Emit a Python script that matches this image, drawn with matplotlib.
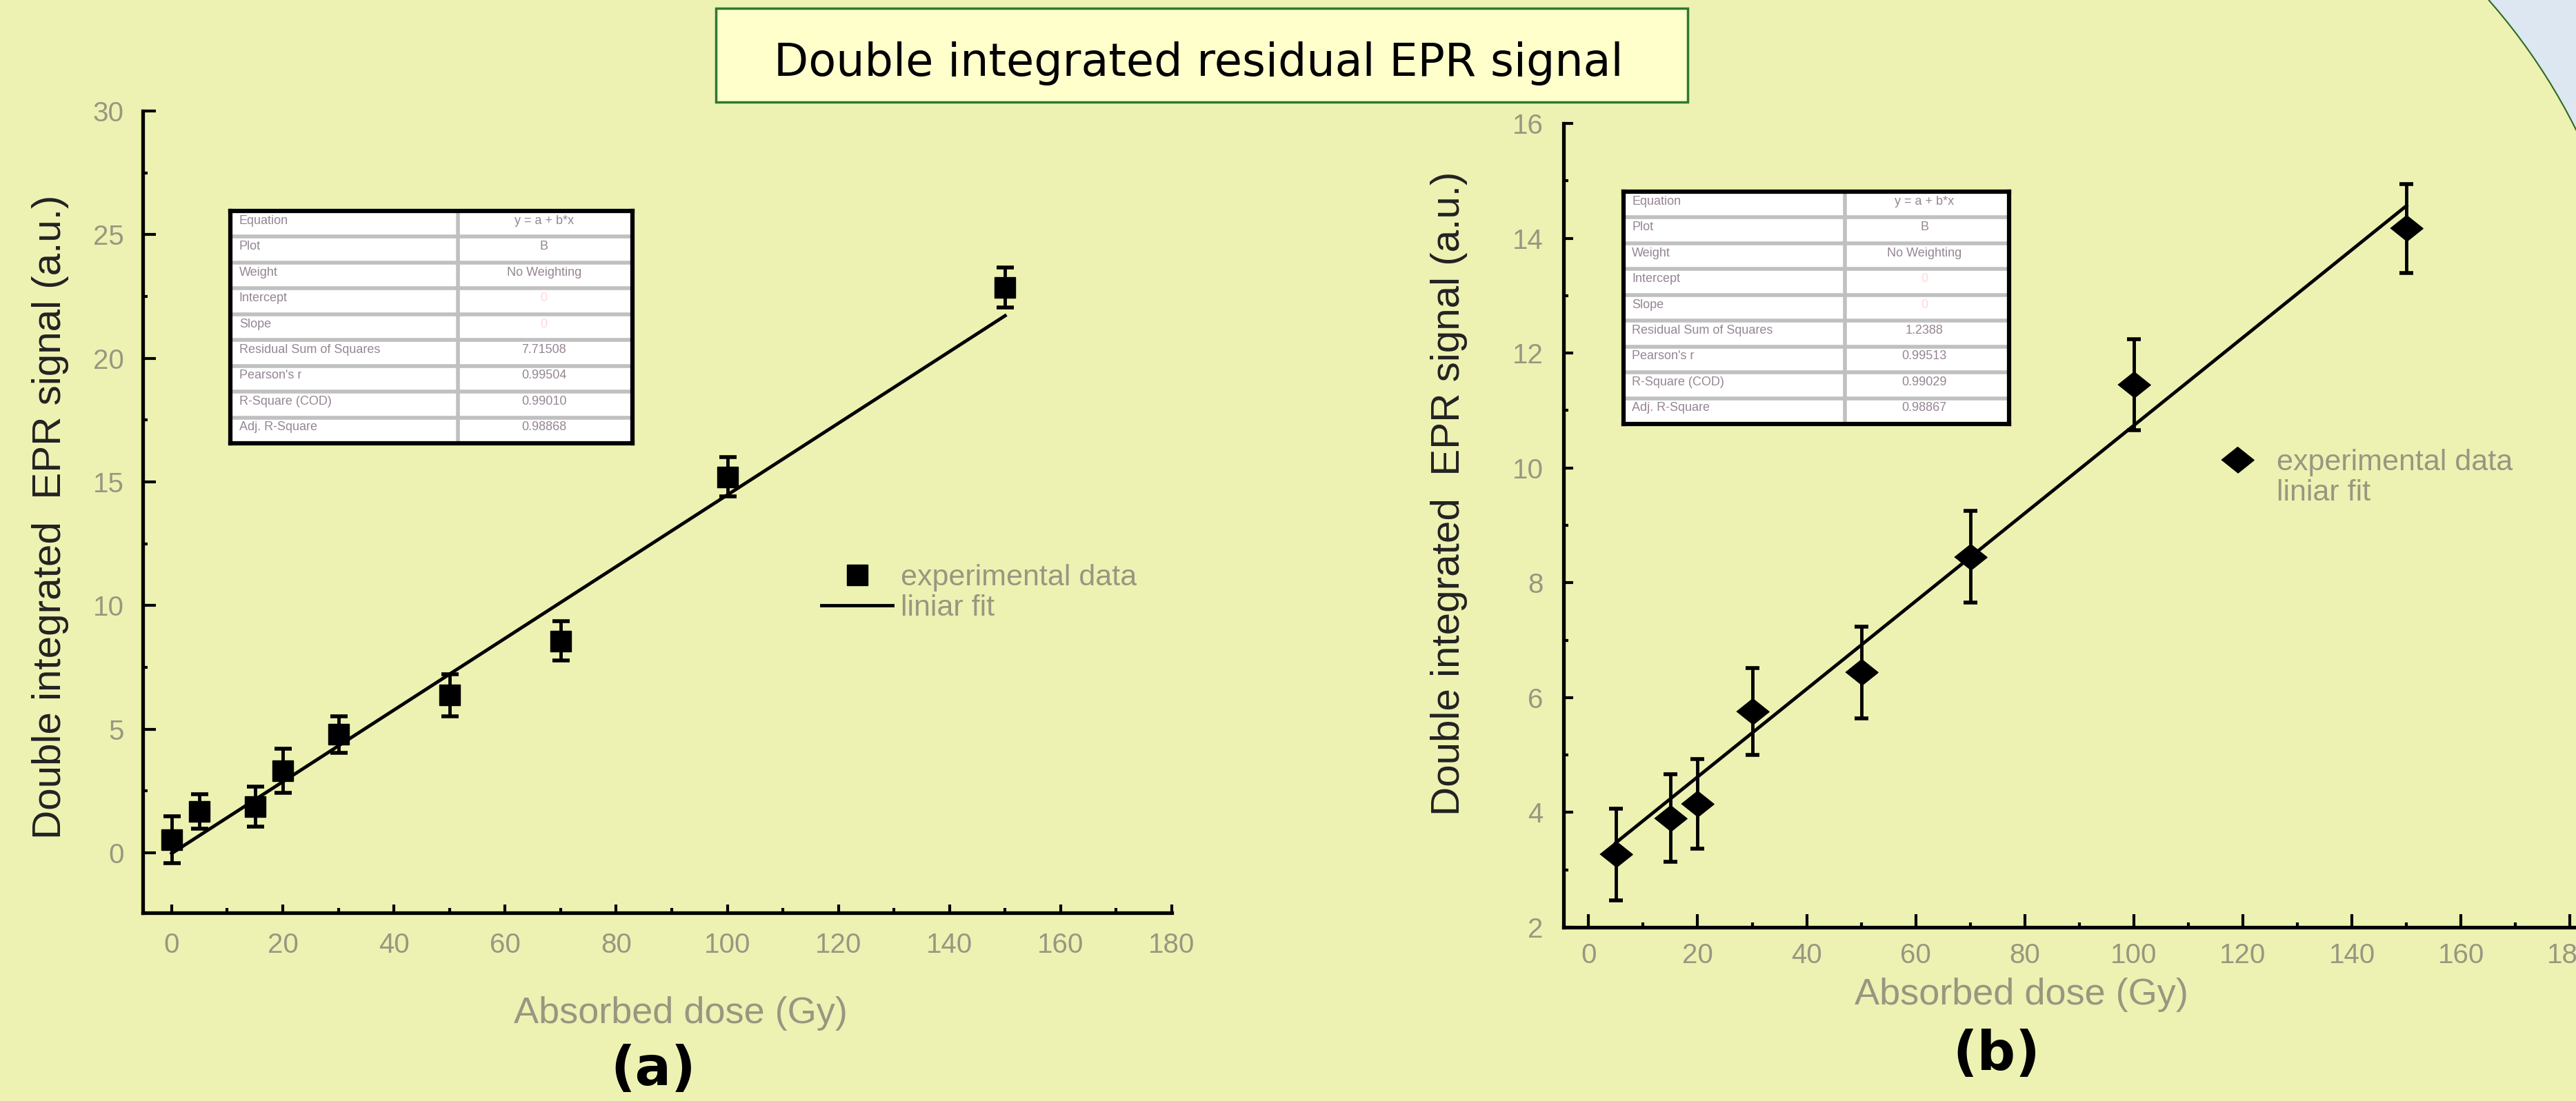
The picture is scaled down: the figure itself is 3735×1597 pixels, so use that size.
import numpy as np
import matplotlib
matplotlib.use("Agg")
import matplotlib.pyplot as plt
from matplotlib.lines import Line2D
from matplotlib.patches import Rectangle, Circle

# panel (a): square markers
dose_a = [0, 5, 15, 20, 30, 50, 70, 100, 150]
signal_a = [0.53, 1.66, 1.86, 3.32, 4.78, 6.38, 8.57, 15.2, 22.86]
err_a = [0.95, 0.7, 0.8, 0.9, 0.75, 0.85, 0.8, 0.8, 0.8]
fit_a = (-0.03, 0.145)      # intercept, slope of the drawn fit line
fit_range_a = [0, 150]

# panel (b): diamond markers
dose_b = [5, 15, 20, 30, 50, 70, 100, 150]
signal_b = [3.27, 3.90, 4.15, 5.76, 6.44, 8.45, 11.45, 14.17]
err_b = [0.8, 0.76, 0.78, 0.76, 0.8, 0.8, 0.79, 0.77]
fit_b = (3.09, 0.0765)
fit_range_b = [5, 150]

# fit report tables
table_names = ["Equation", "Plot", "Weight", "Intercept", "Slope",
               "Residual Sum of Squares", "Pearson's r", "R-Square (COD)",
               "Adj. R-Square"]
table_vals_a = ["y = a + b*x", "B", "No Weighting", "", "",
                "7.71508", "0.99504", "0.99010", "0.98868"]
table_vals_b = ["y = a + b*x", "B", "No Weighting", "", "",
                "1.2388", "0.99513", "0.99029", "0.98867"]

legend_labels = ["experimental data", "liniar fit"]
title = "Double integrated residual EPR signal"
xlabel = "Absorbed dose (Gy)"
ylabel = "Double integrated  EPR signal (a.u.)"

bg = '#edf2b3'
grey = '#9a9680'

plt.rcParams['font.family'] = ['Liberation Sans', 'DejaVu Sans']

W, H = 3735, 1597
fig = plt.figure(figsize=(W / 100, H / 100), dpi=100, facecolor=bg)


def frac(x0, y0, x1, y1):
    # pixel box (top-left origin) -> figure fraction rect
    return [x0 / W, 1 - y1 / H, (x1 - x0) / W, (y1 - y0) / H]


# blue slide corner top right
corner = Rectangle((35.0, 12.0), 2.4, 4.0, transform=fig.dpi_scale_trans,
                   facecolor='#dce7f2', edgecolor='none', zorder=-3)
fig.add_artist(corner)
edge = Circle((29.47, 10.15), 8.81, transform=fig.dpi_scale_trans,
              facecolor=bg, edgecolor='#2d6a1f', lw=1.5, zorder=-2)
edge.set_clip_path(corner)
fig.add_artist(edge)

# title box
fig.add_artist(Rectangle((10.38, 14.49), 14.09, 1.36, transform=fig.dpi_scale_trans,
                         facecolor='#ffffcc', edgecolor='#2b7a2b', lw=2.5, zorder=-1))
fig.text(1738 / W, 1 - 92 / H, title, ha='center', va='center', fontsize=47,
         family='DejaVu Sans', color='black')


def panel(rect, dose, sig, err, fit, fit_range, marker, ms, capsize,
          xlim, ylim, yticks, yminor, ylen, xlen, xpad, ypad):
    ax = fig.add_axes(rect)
    ax.set_facecolor('none')
    for s in ['top', 'right']:
        ax.spines[s].set_visible(False)
    for s in ['left', 'bottom']:
        ax.spines[s].set_linewidth(3.8)
    xs = np.array(fit_range, dtype=float)
    ax.plot(xs, fit[0] + fit[1] * xs, color='k', lw=3.5, zorder=2)
    ax.errorbar(dose, sig, yerr=err, fmt='', ls='none', marker=marker, ms=ms,
                color='k', ecolor='k', elinewidth=3.5, capsize=capsize,
                capthick=4, zorder=3)
    ax.set_xlim(*xlim)
    ax.set_ylim(*ylim)
    ax.set_xticks(np.arange(0, 181, 20))
    ax.set_xticks(np.arange(10, 180, 20), minor=True)
    ax.set_yticks(yticks)
    ax.set_yticks(yminor, minor=True)
    ax.tick_params(axis='x', which='major', direction='in', length=xlen, width=3,
                   pad=xpad, labelsize=29, labelcolor=grey)
    ax.tick_params(axis='y', which='major', direction='in', length=ylen, width=3,
                   pad=ypad, labelsize=29, labelcolor=grey)
    ax.tick_params(which='minor', direction='in', length=5, width=3)
    return ax


ax1 = panel(frac(207, 161, 1699, 1324), dose_a, signal_a, err_a, fit_a, fit_range_a,
            's', 22, 9, (-5.2, 180), (-2.43, 30), np.arange(0, 31, 5),
            np.arange(2.5, 30, 5), 14, 9, 20, 19.5)
diamond = [(-1, 0), (0, 0.8), (1, 0), (0, -0.8)]
ax2 = panel(frac(2267, 179, 3735, 1345), dose_b, signal_b, err_b, fit_b, fit_range_b,
            diamond, 34, 7, (-4.6, 181.1), (2, 16), np.arange(2, 17, 2),
            np.arange(3, 16, 2), 10, 14, 16, 21)

# axis labels
for ax, xc, xy, yc, yy in [(ax1, 0.523, -0.1255, -0.0898, 0.4936),
                           (ax2, 0.452, -0.084, -0.113, 0.540)]:
    ax.set_xlabel(xlabel, fontsize=39, color=grey)
    ax.xaxis.set_label_coords(xc, xy)
    ax.xaxis.label.set_va('center')
    ax.set_ylabel(ylabel, fontsize=42, color='#222222')
    ax.yaxis.set_label_coords(yc, yy)
    ax.yaxis.label.set_va('center')

fig.text(947 / W, 1 - 1552 / H, "(a)", ha='center', va='center', fontsize=56,
         fontweight='bold', family='DejaVu Sans')
fig.text(2895 / W, 1 - 1530 / H, "(b)", ha='center', va='center', fontsize=56,
         fontweight='bold', family='DejaVu Sans')

# legends
h_sq = Line2D([], [], marker='s', ms=22, ls='none', color='k')
h_di = Line2D([], [], marker=diamond, ms=34, ls='none', color='k')
h_ln = Line2D([], [], color='k', lw=3.5)
h_none = Line2D([], [], ls='none')
ax1.legend([h_sq, h_ln], legend_labels, loc='upper left', bbox_to_anchor=(1191 / W, 1 - 818 / H),
           bbox_transform=fig.transFigure, frameon=False, fontsize=31, labelcolor=grey,
           handlelength=2.4, handletextpad=0.28, labelspacing=0.1, borderpad=0, borderaxespad=0)
ax2.legend([h_di, h_none], legend_labels, loc='upper left', bbox_to_anchor=(3199 / W, 1 - 651 / H),
           bbox_transform=fig.transFigure, frameon=False, fontsize=31, labelcolor=grey,
           handlelength=2.1, handletextpad=0.28, labelspacing=0.1, borderpad=0, borderaxespad=0)


def fit_table(rect, names, vals, split):
    tax = fig.add_axes(rect)
    tax.set_facecolor('white')
    tax.set_xlim(0, 1)
    tax.set_ylim(0, 1)
    tax.set_xticks([])
    tax.set_yticks([])
    for s in tax.spines.values():
        s.set_linewidth(4.5)
    n = len(names)
    for i in range(1, n):
        tax.axhline(i / n, color='#c0c0c0', lw=4)
    tax.axvline(split, color='#c0c0c0', lw=4)
    for i, (a, b) in enumerate(zip(names, vals)):
        y = 1 - (i + 0.5) / n + 0.12 / n
        tax.text(0.022, y, a, fontsize=13, color='#958594', va='center')
        tax.text(0.78, y, b if b else "0", fontsize=13, ha='center', va='center',
                 color='#958594' if b else '#ffd8d8')


fit_table(frac(334, 306, 917, 643), table_names, table_vals_a, 0.566)
fit_table(frac(2354, 278, 2913, 615), table_names, table_vals_b, 0.574)

fig.savefig("out.png", dpi=100, facecolor=bg)
